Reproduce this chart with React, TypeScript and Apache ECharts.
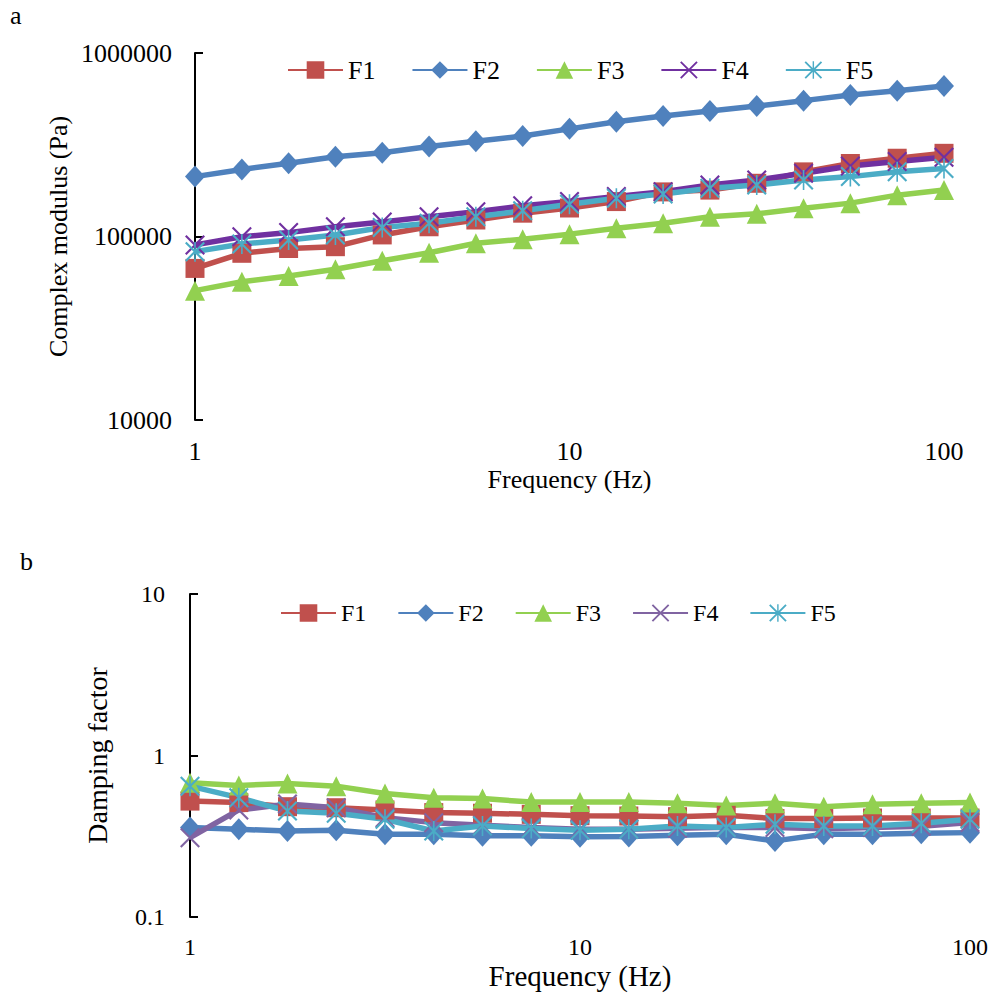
import React, { useEffect, useRef } from "react";
import * as echarts from "echarts";

const freq = [1, 1.334, 1.778, 2.371, 3.162, 4.217, 5.623, 7.499, 10, 13.34, 17.78, 23.71, 31.62, 42.17, 56.23, 74.99, 100];
const seriesNames = ["F1", "F2", "F3", "F4", "F5"];

const modF1 = [67000, 81000, 86000, 88000, 102000, 113000, 123000, 134000, 143000, 155000, 175000, 179000, 195000, 225000, 250000, 267000, 284000];
const modF2 = [212000, 232000, 251000, 272000, 286000, 309000, 330000, 353000, 386000, 422000, 454000, 483000, 514000, 550000, 591000, 623000, 661000];
const modF3 = [50700, 56700, 60900, 66300, 73800, 81600, 91800, 96600, 103000, 111000, 118000, 128000, 133000, 142500, 152000, 168000, 179000];
const modF4 = [90000, 99700, 105000, 113000, 120000, 128000, 136500, 147000, 155000, 165000, 175500, 191000, 203000, 221000, 242000, 256000, 270000];
const modF5 = [82700, 91000, 95700, 102000, 112000, 118000, 128000, 138000, 150000, 161500, 170500, 183000, 191000, 203000, 212000, 225500, 235000];

const dampF1 = [0.522, 0.511, 0.482, 0.475, 0.46, 0.443, 0.439, 0.432, 0.424, 0.422, 0.418, 0.426, 0.407, 0.407, 0.41, 0.41, 0.41];
const dampF2 = [0.358, 0.349, 0.341, 0.345, 0.325, 0.325, 0.318, 0.318, 0.314, 0.315, 0.321, 0.325, 0.296, 0.325, 0.325, 0.33, 0.333];
const dampF3 = [0.678, 0.653, 0.671, 0.646, 0.582, 0.548, 0.541, 0.515, 0.516, 0.515, 0.506, 0.491, 0.506, 0.482, 0.499, 0.506, 0.511];
const dampF4 = [0.31, 0.46, 0.5, 0.475, 0.412, 0.384, 0.37, 0.358, 0.35, 0.35, 0.355, 0.36, 0.358, 0.352, 0.358, 0.365, 0.385];
const dampF5 = [0.646, 0.548, 0.453, 0.439, 0.403, 0.341, 0.366, 0.353, 0.345, 0.349, 0.366, 0.358, 0.375, 0.366, 0.366, 0.38, 0.403];

const FONT = "Liberation Serif, Times New Roman, serif";
const X_PATH = "path://M0,1.5L1.5,0L20,18.5L18.5,20ZM18.5,0L20,1.5L1.5,20L0,18.5Z";
const STAR_PATH = "path://M0,1.5L1.5,0L20,18.5L18.5,20ZM18.5,0L20,1.5L1.5,20L0,18.5ZM9.2,0L10.8,0L10.8,20L9.2,20Z";

const symbols = ["rect", "diamond", "triangle", X_PATH, STAR_PATH];
const symbolSizes: any[] = [19, [20, 22], 20, 20, 20];

function buildSeries(values: number[][], colors: string[]) {
  return values.map((vals, i) => ({
    name: seriesNames[i],
    type: "line",
    data: vals.map((v, j) => [freq[j], v]),
    symbol: symbols[i],
    symbolSize: symbolSizes[i],
    clip: false,
    lineStyle: { color: colors[i], width: 5.5 },
    itemStyle: { color: colors[i], borderWidth: 0 },
    emphasis: { disabled: true },
  }));
}

function makeOption(cfg: any) {
  return {
    animation: false,
    textStyle: { fontFamily: FONT },
    graphic: [
      {
        type: "text",
        left: cfg.letterLeft,
        top: cfg.letterTop,
        style: { text: cfg.letter, fontFamily: FONT, fontSize: 26, fill: "#000" },
      },
    ],
    legend: {
      data: seriesNames,
      left: cfg.legendLeft,
      top: cfg.legendTop,
      itemWidth: 55,
      itemHeight: 22,
      itemGap: cfg.legendGap,
      textStyle: { fontFamily: FONT, fontSize: cfg.legendFont, color: "#000" },
    },
    grid: { left: cfg.gl, top: cfg.gt, width: cfg.gw, height: cfg.gh },
    xAxis: {
      type: "log",
      logBase: 10,
      min: 1,
      max: 100,
      name: "Frequency (Hz)",
      nameLocation: "middle",
      nameGap: cfg.xNameGap,
      nameMoveOverlap: false,
      nameTextStyle: { fontFamily: FONT, fontSize: cfg.xNameFont, color: "#000" },
      axisLine: { show: false },
      axisTick: { show: false },
      splitLine: { show: false },
      axisLabel: {
        fontFamily: FONT,
        fontSize: cfg.tickFont,
        color: "#000",
        margin: cfg.xLabelMargin,
        formatter: (v: number) => String(Math.round(v)),
      },
    },
    yAxis: {
      type: "log",
      logBase: 10,
      min: cfg.yMin,
      max: cfg.yMax,
      name: cfg.yName,
      nameLocation: "middle",
      nameGap: cfg.yNameGap,
      nameMoveOverlap: false,
      nameTextStyle: { fontFamily: FONT, fontSize: cfg.yNameFont, color: "#000" },
      axisLine: { show: true, lineStyle: { color: "#000", width: 2 } },
      axisTick: { show: true, inside: true, length: 8, lineStyle: { color: "#000", width: 2 } },
      splitLine: { show: false },
      minorTick: { show: false },
      axisLabel: {
        fontFamily: FONT,
        fontSize: cfg.tickFont,
        color: "#000",
        margin: cfg.yLabelMargin,
        formatter: (v: number) => String(parseFloat(v.toPrecision(6))),
      },
    },
    series: buildSeries(cfg.values, cfg.colors),
  };
}

function Panel({ option, top, height }: { option: any; top: number; height: number }) {
  const ref = useRef<HTMLDivElement>(null);
  useEffect(() => {
    if (!ref.current) return;
    const chart = echarts.init(ref.current, undefined, { renderer: "svg" });
    chart.setOption(option);
    return () => chart.dispose();
  }, [option]);
  return (
    <div
      ref={ref}
      style={{ position: "absolute", left: 0, top, width: 993, height, background: "#fff" }}
    />
  );
}

const topOption = makeOption({
  letter: "a",
  letterLeft: 10,
  letterTop: 2,
  legendLeft: 282,
  legendTop: 52,
  legendGap: 36,
  legendFont: 26,
  tickFont: 26,
  xNameFont: 26,
  yNameFont: 26,
  gl: 195,
  gt: 53,
  gw: 749,
  gh: 367,
  xNameGap: 46,
  xLabelMargin: 18,
  yMin: 10000,
  yMax: 1000000,
  yName: "Complex modulus (Pa)",
  yNameGap: 124,
  yLabelMargin: 23,
  values: [modF1, modF2, modF3, modF4, modF5],
  colors: ["#C0504D", "#4F81BD", "#92D050", "#7030A0", "#4BACC6"],
});

const bottomOption = makeOption({
  letter: "b",
  letterLeft: 20,
  letterTop: 28,
  legendLeft: 275,
  legendTop: 76,
  legendGap: 31,
  legendFont: 24,
  tickFont: 24,
  xNameFont: 29,
  yNameFont: 28,
  gl: 190,
  gt: 74,
  gw: 780,
  gh: 324,
  xNameGap: 44,
  xLabelMargin: 18,
  yMin: 0.1,
  yMax: 10,
  yName: "Damping factor",
  yNameGap: 79,
  yLabelMargin: 25,
  values: [dampF1, dampF2, dampF3, dampF4, dampF5],
  colors: ["#C0504D", "#4F81BD", "#92D050", "#8064A2", "#4BACC6"],
});

export default function App() {
  return (
    <div style={{ position: "absolute", left: 0, top: 0, width: 993, height: 995, background: "#fff" }}>
      <Panel option={topOption} top={0} height={520} />
      <Panel option={bottomOption} top={520} height={475} />
    </div>
  );
}
